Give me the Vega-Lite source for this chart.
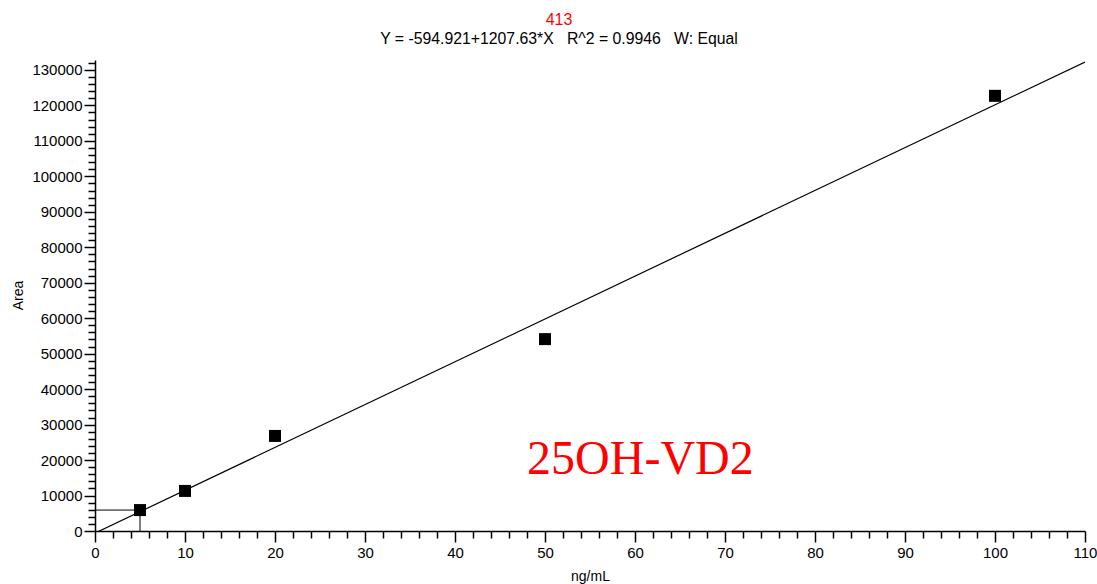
{
  "$schema": "https://vega.github.io/schema/vega-lite/v6.json",
  "autosize": "none",
  "width": 990,
  "height": 471,
  "padding": {"left": 95, "top": 60, "right": 12, "bottom": 53},
  "background": "white",
  "title": {
    "text": "413",
    "subtitle": "Y = -594.921+1207.63*X\u00a0\u00a0 R^2 = 0.9946\u00a0\u00a0 W: Equal",
    "color": "#ff0000",
    "subtitleColor": "#000000",
    "font": "Liberation Sans",
    "subtitleFont": "Liberation Sans",
    "fontSize": 16,
    "fontWeight": "normal",
    "subtitleFontSize": 15.8,
    "subtitlePadding": 4,
    "anchor": "middle",
    "dx": -31,
    "offset": 9
  },
  "config": {
    "view": {"stroke": null},
    "axis": {
      "labelFont": "Liberation Sans",
      "titleFont": "Liberation Sans",
      "labelFontSize": 15,
      "titleFontSize": 14,
      "titleFontWeight": "normal",
      "labelColor": "#000000",
      "titleColor": "#000000",
      "domainColor": "#000000",
      "tickColor": "#000000",
      "domainWidth": 1.5,
      "tickWidth": 1.5,
      "grid": false,
      "labelOverlap": false,
      "labelFlush": false,
      "tickCount": 1000
    }
  },
  "datasets": {
    "standards": [
      {"conc": 5, "area": 5900},
      {"conc": 10, "area": 11300},
      {"conc": 20, "area": 26800},
      {"conc": 50, "area": 54100},
      {"conc": 100, "area": 122700}
    ],
    "fit": [
      {"conc": 0, "area": -594.921},
      {"conc": 110, "area": 132244.38}
    ],
    "sample": [
      {"conc": 5, "area": 5900, "x0": 0, "y0": 0}
    ],
    "label": [
      {"conc": 60.6, "area": 16100, "name": "25OH-VD2"}
    ]
  },
  "layer": [
    {
      "data": {"name": "fit"},
      "mark": {"type": "line", "color": "#000000", "strokeWidth": 1.2, "clip": true},
      "encoding": {
        "x": {
          "field": "conc",
          "type": "quantitative",
          "scale": {"domain": [0, 110], "nice": false, "zero": false},
          "axis": {
            "title": "ng/mL",
            "format": "d",
            "tickCount": 1000,
            "values": [0,2,4,6,8,10,12,14,16,18,20,22,24,26,28,30,32,34,36,38,40,42,44,46,48,50,52,54,56,58,60,62,64,66,68,70,72,74,76,78,80,82,84,86,88,90,92,94,96,98,100,102,104,106,108,110],
            "labelExpr": "datum.value % 10 === 0 ? datum.label : ''",
            "tickSize": {"condition": {"test": "datum.value % 10 === 0", "value": 11}, "value": 7},
            "labelPadding": 3,
            "titleX": 495,
            "titleY": 45,
            "titleBaseline": "middle",
            "titleAlign": "center"
          }
        },
        "y": {
          "field": "area",
          "type": "quantitative",
          "scale": {"domain": [0, 132800], "nice": false, "zero": false},
          "axis": {
            "title": "Area",
            "format": "d",
            "tickCount": 1000,
            "values": [0,2000,4000,6000,8000,10000,12000,14000,16000,18000,20000,22000,24000,26000,28000,30000,32000,34000,36000,38000,40000,42000,44000,46000,48000,50000,52000,54000,56000,58000,60000,62000,64000,66000,68000,70000,72000,74000,76000,78000,80000,82000,84000,86000,88000,90000,92000,94000,96000,98000,100000,102000,104000,106000,108000,110000,112000,114000,116000,118000,120000,122000,124000,126000,128000,130000,132000],
            "labelExpr": "datum.value % 10000 === 0 ? datum.label : ''",
            "tickSize": {"condition": {"test": "datum.value % 10000 === 0", "value": 11}, "value": 7},
            "labelPadding": 2,
            "titleAngle": -90,
            "titleX": -77,
            "titleY": 235,
            "titleBaseline": "middle",
            "titleAlign": "center"
          }
        }
      }
    },
    {
      "data": {"name": "sample"},
      "mark": {"type": "rule", "color": "#000000", "strokeWidth": 1},
      "encoding": {
        "x": {"field": "x0", "type": "quantitative"},
        "x2": {"field": "conc"},
        "y": {"field": "area", "type": "quantitative"}
      }
    },
    {
      "data": {"name": "sample"},
      "mark": {"type": "rule", "color": "#000000", "strokeWidth": 1},
      "encoding": {
        "x": {"field": "conc", "type": "quantitative"},
        "y": {"field": "y0", "type": "quantitative"},
        "y2": {"field": "area"}
      }
    },
    {
      "data": {"name": "standards"},
      "mark": {"type": "point", "shape": "square", "filled": true, "color": "#000000", "opacity": 1, "size": 144},
      "encoding": {
        "x": {"field": "conc", "type": "quantitative"},
        "y": {"field": "area", "type": "quantitative"}
      }
    },
    {
      "data": {"name": "label"},
      "mark": {"type": "text", "font": "Liberation Serif", "fontSize": 48, "color": "#ff0000", "align": "center", "baseline": "alphabetic"},
      "encoding": {
        "x": {"field": "conc", "type": "quantitative"},
        "y": {"field": "area", "type": "quantitative"},
        "text": {"field": "name"}
      }
    }
  ]
}
